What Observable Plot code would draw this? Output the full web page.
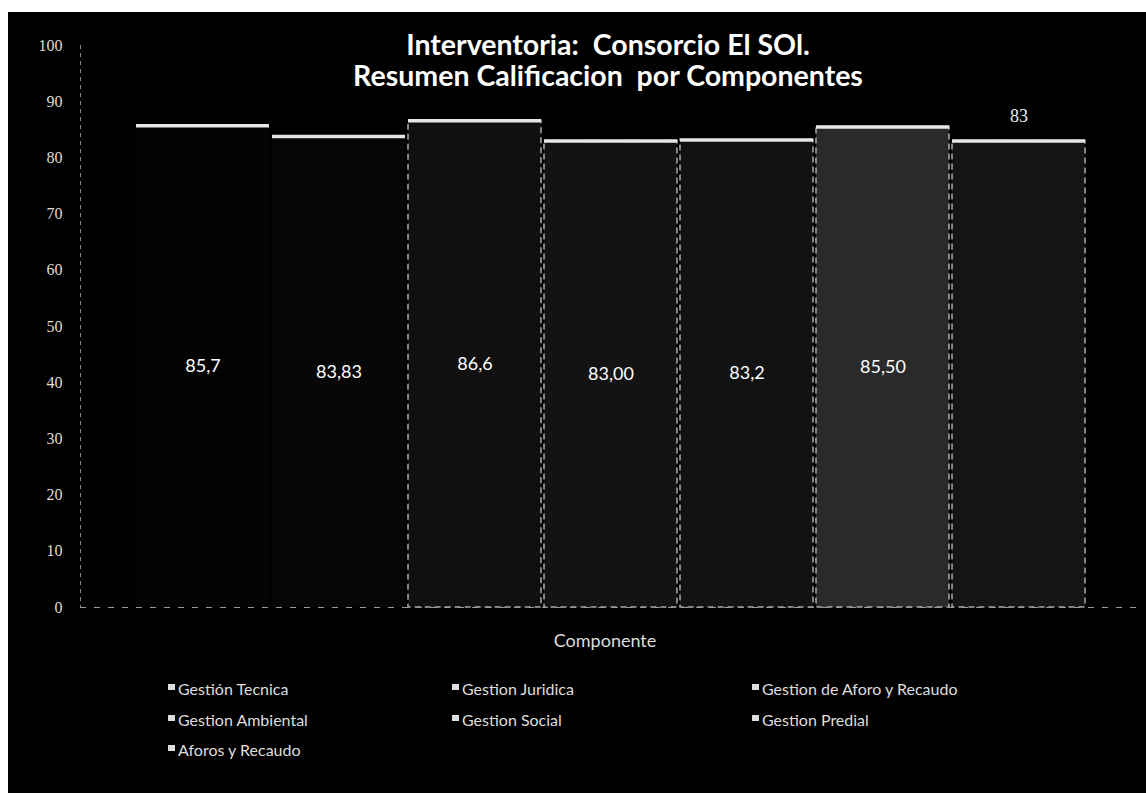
<!DOCTYPE html>
<html><head><meta charset="utf-8">
<script src="https://cdn.jsdelivr.net/npm/d3@7"></script>
<script src="https://cdn.jsdelivr.net/npm/@observablehq/plot@0.6"></script>
<style>
body{margin:0;background:#fff;width:1146px;height:793px;position:relative;overflow:hidden;font-family:Lato,sans-serif}
#panel{position:absolute;left:8px;top:12px;width:1138px;height:781px;background:#000}
#chart{position:absolute;left:0;top:0}
#title{position:absolute;left:80px;width:1056px;top:29px;text-align:center;color:#fff;font-family:Lato,sans-serif;font-weight:bold;font-size:28.5px;line-height:31px}
#xlabel{position:absolute;left:80px;width:1050px;top:629px;text-align:center;color:#ddd;font-family:Lato,sans-serif;font-size:18px}
.leg{position:absolute;color:#ddd;font-family:Lato,sans-serif;font-size:16px;white-space:nowrap;line-height:20px}
.leg i{display:inline-block;width:7px;height:6px;background:#ddd;margin-right:3px;vertical-align:middle;position:relative;top:-4px}
</style></head>
<body>
<div id="panel"></div>
<div id="chart"></div>
<div id="title">Interventoria:&nbsp; Consorcio El SOl.<br>Resumen Calificacion&nbsp; por Componentes</div>
<div id="xlabel">Componente</div>
<div id="legend"></div>
<script>
const components = ["Gestión Tecnica","Gestion Juridica","Gestion de Aforo y Recaudo","Gestion Ambiental","Gestion Social","Gestion Predial","Aforos y Recaudo"];
const scores = [85.7, 83.83, 86.6, 83.00, 83.2, 85.50, 83];
const scoreLabels = ["85,7","83,83","86,6","83,00","83,2","85,50","83"];
const yTicks = [0,10,20,30,40,50,60,70,80,90,100];
const barColors = ["#030303","#060606","#101010","#131313","#121212","#2a2a2a","#151515"];

const data = components.map((c,i)=>({c, v:scores[i], label:scoreLabels[i], i}));

const chart = Plot.plot({
  width:1146, height:620,
  marginLeft:80, marginRight:6, marginTop:45, marginBottom:13,
  style:{background:"transparent", color:"#ddd"},
  x:{domain:components, paddingInner:0.025, paddingOuter:0.404, axis:null},
  y:{domain:[0,100], axis:null},
  color:{domain:components, range:barColors},
  marks:[
    Plot.axisY({ticks:yTicks, tickSize:0, tickPadding:18, fontFamily:"Liberation Serif", fontSize:16, fill:"#ddd", label:null}),
    Plot.frame({anchor:"left", stroke:"#888", strokeDasharray:"3,5"}),
    Plot.barY(data,{x:"c", y:"v", fill:"c"}),
    Plot.barY(data.filter(d=>d.i>=2),{x:"c", y:"v", fill:"none", stroke:"#aaa", strokeDasharray:"6,4", strokeWidth:1.5}),
    Plot.tickY(data,{x:"c", y:"v", stroke:"#e6e6e6", strokeWidth:3.5}),
    Plot.ruleY([0],{stroke:"#999", strokeDasharray:"6,8"}),
    Plot.text(data.filter(d=>d.i<6),{x:"c", y:d=>d.v/2, text:"label", fill:"#fff", fontSize:18, fontFamily:"Lato"}),
    Plot.text(data.filter(d=>d.i===6),{x:"c", y:"v", dy:-25, text:"label", fill:"#eee", fontSize:18, fontFamily:"Liberation Serif"})
  ]
});
document.getElementById("chart").appendChild(chart);

const legCols = [168, 452, 752], legRows = [679, 710, 740];
const legend = document.getElementById("legend");
components.forEach((c,i)=>{
  const d = document.createElement("div");
  d.className = "leg";
  d.style.left = legCols[i%3] + "px";
  d.style.top = legRows[Math.floor(i/3)] + "px";
  d.innerHTML = "<i></i>" + c;
  legend.appendChild(d);
});
</script>
</body></html>
